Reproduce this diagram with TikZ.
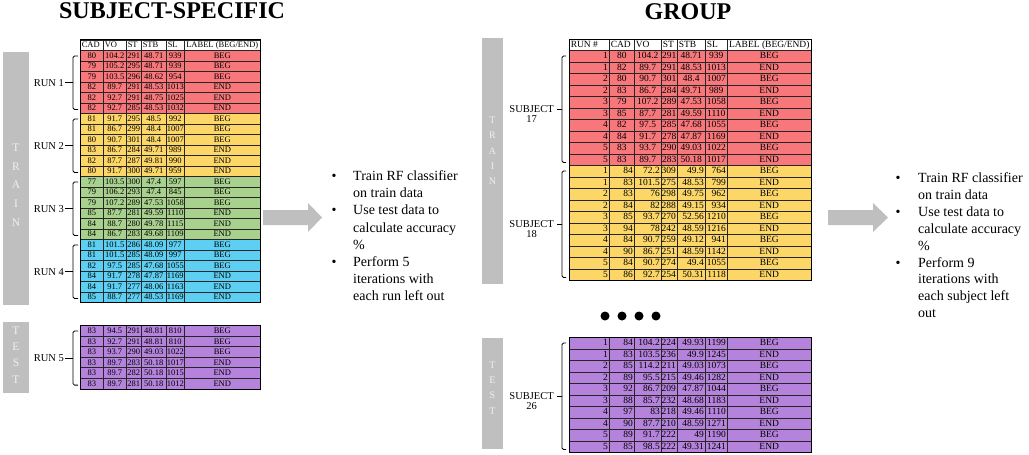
\documentclass[tikz,border=0pt]{standalone}
\usepackage{fontspec}
\setmainfont{Liberation Serif}
\usetikzlibrary{positioning,calc}

\definecolor{runred}{HTML}{F8777B}
\definecolor{runyellow}{HTML}{FCD768}
\definecolor{rungreen}{HTML}{A9D18E}
\definecolor{runblue}{HTML}{5CCFF2}
\definecolor{runpurple}{HTML}{B583DC}
\definecolor{bargray}{HTML}{BFBFBF}

% column edges of the two tables
\def\lcols{{80,103,126,141,166,184,260}}
\def\rcols{{569,609,634,661,677,705,727,811}}

% prefix, columns, top, row height, fill, n first cols, their align, rows
\newcommand\datablock[8]{%
  \foreach \rowdata [count=\rr from 0] in {#8}{
    \foreach \txt [count=\cc from 0] in \rowdata{
      \pgfmathsetmacro\xl{#2[\cc]}
      \pgfmathsetmacro\w{#2[\cc+1]-\xl}
      \pgfmathsetmacro\tw{\w-3}
      \ifnum\cc<#6\relax\def\al{#7}\else\def\al{c}\fi
      \node[cell, fill=#5, minimum width=\w pt, minimum height=#4pt]
        (#1-\rr-\cc) at (\xl, #3+\rr*#4) {\makebox[\tw pt][\al]{\txt}};
    }
  }%
}

\tikzset{
  cell/.style={draw=black!85, line width=0.5pt, anchor=north west,
    inner xsep=1.5pt, inner ysep=0pt, text height=6.3pt, text depth=0.6pt},
  frame/.style={draw=black, line width=1pt},
  brk/.style={line width=0.8pt, rounded corners=1.5pt},
  runlabel/.style={font=\fontsize{10.5}{12}\selectfont, inner sep=1pt},
  letters/.style={text=white!94!black, align=center, inner sep=0pt},
  title/.style={font=\fontsize{24}{28}\selectfont\bfseries},
  bulletline/.style={anchor=base west, inner sep=0pt,
    font=\fontsize{14}{17}\selectfont},
}

\begin{document}
\begin{tikzpicture}[x=1pt,y=-1pt]
\useasboundingbox (0,0) rectangle (1029,455);

% titles
\node[title] (sstitle) at (172,11) {SUBJECT-SPECIFIC};
\node[title] (grptitle) at (688,12) {GROUP};

% gray side bars
\fill[bargray] (3,52) rectangle (29,305);
\node[letters, font=\fontsize{11.5}{18.75}\selectfont] (ltrain) at (16,185) {T\\R\\A\\I\\N};
\fill[bargray] (3,322) rectangle (29,393);
\node[letters, font=\fontsize{11.5}{16.3}\selectfont] (ltest) at (16,355) {T\\E\\S\\T};
\fill[bargray] (482,38) rectangle (503,284);
\node[letters, font=\fontsize{10}{15.3}\selectfont] (rtrain) at (492.5,151) {T\\R\\A\\I\\N};
\fill[bargray] (482,338) rectangle (503,449);
\node[letters, font=\fontsize{10}{15.3}\selectfont] (rtest) at (492.5,388) {T\\E\\S\\T};

% subject-specific table
\begin{scope}[font=\fontsize{8.5}{9}\selectfont]
\datablock{lhd}{\lcols}{39.5}{10.5}{white}{5}{l}{{CAD,VO,ST,STB,SL,LABEL (BEG/END)}}
\datablock{l1}{\lcols}{50}{10.5}{runred}{0}{c}{%
  {80,104.2,291,48.71,939,BEG},{79,105.2,295,48.71,939,BEG},
  {79,103.5,296,48.62,954,BEG},{82,89.7,291,48.53,1013,END},
  {82,92.7,291,48.75,1025,END},{82,92.7,285,48.53,1032,END}}
\datablock{l2}{\lcols}{113}{10.5}{runyellow}{0}{c}{%
  {81,91.7,295,48.5,992,BEG},{81,86.7,299,48.4,1007,BEG},
  {80,90.7,301,48.4,1007,BEG},{83,86.7,284,49.71,989,END},
  {82,87.7,287,49.81,990,END},{80,91.7,300,49.71,959,END}}
\datablock{l3}{\lcols}{176}{10.5}{rungreen}{0}{c}{%
  {77,103.5,300,47.4,597,BEG},{79,106.2,293,47.4,845,BEG},
  {79,107.2,289,47.53,1058,BEG},{85,87.7,281,49.59,1110,END},
  {84,88.7,280,49.78,1115,END},{84,86.7,283,49.68,1109,END}}
\datablock{l4}{\lcols}{239}{10.5}{runblue}{0}{c}{%
  {81,101.5,286,48.09,977,BEG},{81,101.5,285,48.09,997,BEG},
  {82,97.5,285,47.68,1055,BEG},{84,91.7,278,47.87,1169,END},
  {84,91.7,277,48.06,1163,END},{85,88.7,277,48.53,1169,END}}
\datablock{l5}{\lcols}{325}{10.6}{runpurple}{0}{c}{%
  {83,94.5,291,48.81,810,BEG},{83,92.7,291,48.81,810,BEG},
  {83,93.7,290,49.03,1022,BEG},{83,89.7,283,50.18,1017,END},
  {83,89.7,282,50.18,1015,END},{83,89.7,281,50.18,1012,END}}
\end{scope}
\draw[frame] (lhd-0-0.north west) rectangle (l4-5-5.south east);
\draw[frame] (l5-0-0.north west) rectangle (l5-5-5.south east);

% group table
\begin{scope}[font=\fontsize{9.5}{10}\selectfont]
\datablock{rhd}{\rcols}{39}{11}{white}{6}{l}{{RUN \#,CAD,VO,ST,STB,SL,LABEL (BEG/END)}}
\datablock{r17}{\rcols}{50}{11.5}{runred}{1}{r}{%
  {1,80,104.2,291,48.71,939,BEG},{1,82,89.7,291,48.53,1013,END},
  {2,80,90.7,301,48.4,1007,BEG},{2,83,86.7,284,49.71,989,END},
  {3,79,107.2,289,47.53,1058,BEG},{3,85,87.7,281,49.59,1110,END},
  {4,82,97.5,285,47.68,1055,BEG},{4,84,91.7,278,47.87,1169,END},
  {5,83,93.7,290,49.03,1022,BEG},{5,83,89.7,283,50.18,1017,END}}
\datablock{r18}{\rcols}{165}{11.5}{runyellow}{6}{r}{%
  {1,84,72.2,309,49.9,764,BEG},{1,83,101.5,275,48.53,799,END},
  {2,83,76,298,49.75,962,BEG},{2,84,82,288,49.15,934,END},
  {3,85,93.7,270,52.56,1210,BEG},{3,94,78,242,48.59,1216,END},
  {4,84,90.7,259,49.12,941,BEG},{4,90,86.7,251,48.59,1142,END},
  {5,84,90.7,274,49.4,1055,BEG},{5,86,92.7,254,50.31,1118,END}}
\datablock{r26}{\rcols}{337}{11.5}{runpurple}{6}{r}{%
  {1,84,104.2,224,49.93,1199,BEG},{1,83,103.5,236,49.9,1245,END},
  {2,85,114.2,211,49.03,1073,BEG},{2,89,95.5,215,49.46,1282,END},
  {3,92,86.7,209,47.87,1044,BEG},{3,88,85.7,232,48.68,1183,END},
  {4,97,83,218,49.46,1110,BEG},{4,90,87.7,210,48.59,1271,END},
  {5,89,91.7,222,49,1190,BEG},{5,85,98.5,222,49.31,1241,END}}
\end{scope}
\draw[frame] (rhd-0-0.north west) rectangle (r18-9-6.south east);
\draw[frame] (r26-0-0.north west) rectangle (r26-9-6.south east);

% run brackets
\foreach \blk/\lab in {l1/RUN 1,l2/RUN 2,l3/RUN 3,l4/RUN 4,l5/RUN 5}{
  \coordinate (\blk-bt) at ($(\blk-0-0.north west)+(-2,6)$);
  \coordinate (\blk-bb) at ($(\blk-5-0.south west)+(-2,-4)$);
  \draw[brk] (\blk-bt) -- ++(-5,0) |- (\blk-bb);
  \draw[brk] ($(\blk-bt)!0.5!(\blk-bb)+(-5,0)$) -- ++(-8,0) coordinate (\blk-tip);
  \node[runlabel, anchor=east] (\blk-lab) at (\blk-tip) {\lab};
}

% subject brackets
\foreach \blk/\num in {r17/17,r18/18,r26/26}{
  \coordinate (\blk-bt) at ($(\blk-0-0.north west)+(-3,6)$);
  \coordinate (\blk-bb) at ($(\blk-9-0.south west)+(-3,-3)$);
  \draw[brk] (\blk-bt) -- ++(-4,0) |- (\blk-bb);
  \draw[brk] ($(\blk-bt)!0.5!(\blk-bb)+(-4,0)$) -- ++(-5,0) coordinate (\blk-tip);
  \node[runlabel, anchor=east, xshift=-2pt] (\blk-lab) at (\blk-tip) {SUBJECT};
  \node[runlabel, below=0.5pt of \blk-lab] (\blk-num) {\num};
}

% more subjects
\foreach \dx [count=\i] in {605,622,639,656}
  \fill (\dx,316) circle (4.5pt);

% arrows
\fill[bargray] (263,210) -- (308,210) -- (308,203) -- (322,217.5)
  -- (308,232) -- (308,225) -- (263,225) -- cycle;
\fill[bargray] (828,210) -- (873,210) -- (873,203) -- (888,217.5)
  -- (873,232) -- (873,225) -- (828,225) -- cycle;

% bullet lists
\foreach \ln [count=\i from 0] in {Train RF classifier,on train data,
    Use test data to,calculate accuracy,\%,Perform 5,iterations with,
    each run left out}
  \node[bulletline] (lt\i) at (353,180.5+17.2*\i) {\ln};
\foreach \i in {0,2,5}
  \node[bulletline, anchor=base] (lb\i) at (334,180.5+17.2*\i) {\textbullet};
\foreach \ln [count=\i from 0] in {Train RF classifier,on train data,
    Use test data to,calculate accuracy,\%,Perform 9,iterations with,
    each subject left,out}
  \node[bulletline] (rt\i) at (918,182.5+16.9*\i) {\ln};
\foreach \i in {0,2,5}
  \node[bulletline, anchor=base] (rb\i) at (898,182.5+16.9*\i) {\textbullet};
\end{tikzpicture}
\end{document}
